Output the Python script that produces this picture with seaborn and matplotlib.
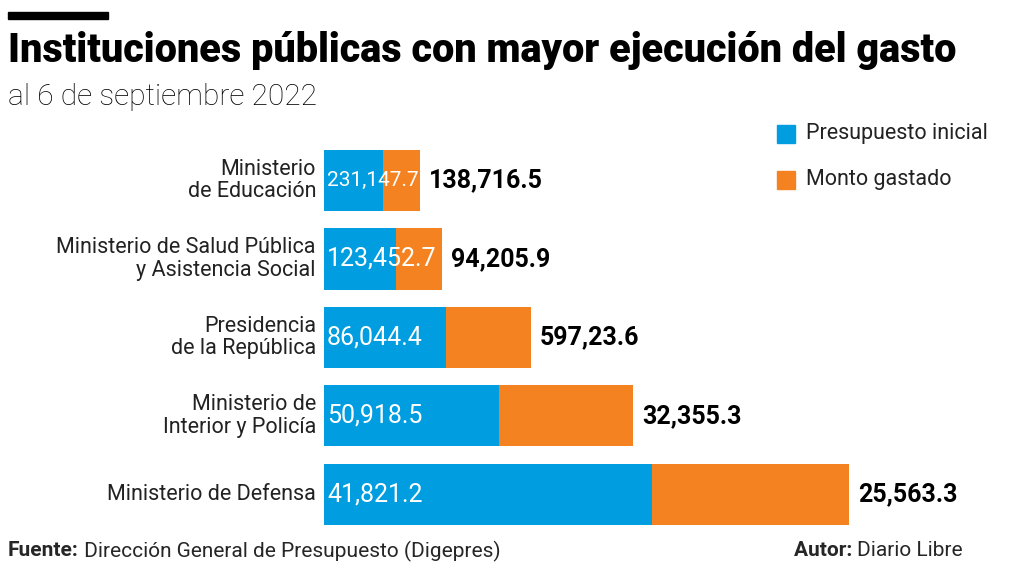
import matplotlib
matplotlib.use("Agg")
import matplotlib.pyplot as plt
import matplotlib.transforms as mtransforms
import seaborn as sns
import pandas as pd

# data
instituciones = ["Ministerio\nde Educación",
                 "Ministerio de Salud Pública\ny Asistencia Social",
                 "Presidencia\nde la República",
                 "Ministerio de\nInterior y Policía",
                 "Ministerio de Defensa"]
presupuesto = [231147.7, 123452.7, 86044.4, 50918.5, 41821.2]
gastado = [138716.5, 94205.9, 59723.6, 32355.3, 25563.3]
# labels as printed in the original (incl. its typo)
etiq_presupuesto = ["231,147.7", "123,452.7", "86,044.4", "50,918.5", "41,821.2"]
etiq_gastado = ["138,716.5", "94,205.9", "597,23.6", "32,355.3", "25,563.3"]

# the original draws the bars in reverse order of the labels
bar_pres = presupuesto[::-1]
bar_gast = gastado[::-1]

AZUL = "#009ee0"
NARANJA = "#f58220"

sns.set_theme(style="white")
plt.rcParams["font.family"] = ["Roboto", "DejaVu Sans"]

df = pd.DataFrame({"inst": instituciones,
                   "pres": bar_pres,
                   "total": [p + g for p, g in zip(bar_pres, bar_gast)]})

fig = plt.figure(figsize=(10.24, 5.71), dpi=100)
ax = fig.add_axes([324 / 1024, 1 - 535 / 571, 676 / 1024, 395 / 571])

sns.barplot(data=df, y="inst", x="total", orient="h", color=NARANJA,
            saturation=1, width=0.78, linewidth=0, ax=ax)
sns.barplot(data=df, y="inst", x="pres", orient="h", color=AZUL,
            saturation=1, width=0.78, linewidth=0, ax=ax)

ax.set_xlim(0, 476000)
ax.set_ylim(4.52, -0.517)
ax.set_xlabel("")
ax.set_ylabel("")
ax.set_xticks([])
ax.set_yticks([])
sns.despine(ax=ax, left=True, bottom=True)

off_in = mtransforms.offset_copy(ax.transData, fig=fig, x=3, y=0, units="dots")
off_out = mtransforms.offset_copy(ax.transData, fig=fig, x=9, y=0, units="dots")
off_cat = mtransforms.offset_copy(ax.transData, fig=fig, x=-8, y=0, units="dots")
for i, inst in enumerate(instituciones):
    ax.text(0, i, inst, transform=off_cat, ha="right", va="center",
            fontsize=15.5, color="#222222", linespacing=1.1)
    # the top bar is short, shrink its inner label so it stays inside
    ax.text(0, i, etiq_presupuesto[i], transform=off_in, ha="left", va="center",
            fontsize=15 if i == 0 else 18, color="white")
    ax.text(df["total"][i], i, etiq_gastado[i], transform=off_out, ha="left",
            va="center", fontsize=18, color="black", fontweight="bold")

# title block
fig.add_artist(plt.Rectangle((8 / 1024, 1 - 19 / 571), 100 / 1024, 7 / 571,
                             color="black", transform=fig.transFigure))
fig.text(8 / 1024, 1 - 50 / 571, "Instituciones públicas con mayor ejecución del gasto",
         fontsize=28.5, fontweight="black", va="center", ha="left", color="black")
fig.text(8 / 1024, 1 - 97 / 571, "al 6 de septiembre 2022", fontsize=21.5,
         va="center", ha="left", color="black", fontweight="light")

# legend
for y, lab, c in [(134, "Presupuesto inicial", AZUL), (180, "Monto gastado", NARANJA)]:
    fig.add_artist(plt.Rectangle((777 / 1024, 1 - (y + 9) / 571), 18 / 1024, 18 / 571,
                                 color=c, transform=fig.transFigure))
    fig.text(806 / 1024, 1 - y / 571, lab, fontsize=15.5, va="center", ha="left",
             color="#222222")

# footer
t1 = fig.text(8 / 1024, 1 - 551 / 571, "Fuente:", fontsize=15, fontweight="bold",
              va="center", ha="left")
fig.add_artist(plt.Annotation(" Dirección General de Presupuesto (Digepres)",
                              xy=(1, 0.5), xycoords=t1, va="center", ha="left",
                              fontsize=15))
t2 = fig.text(963 / 1024, 1 - 551 / 571, "Diario Libre", fontsize=15,
              va="center", ha="right")
fig.add_artist(plt.Annotation("Autor: ", xy=(0, 0.5), xycoords=t2, va="center",
                              ha="right", fontsize=15, fontweight="bold"))

fig.savefig("out.png", dpi=100)
